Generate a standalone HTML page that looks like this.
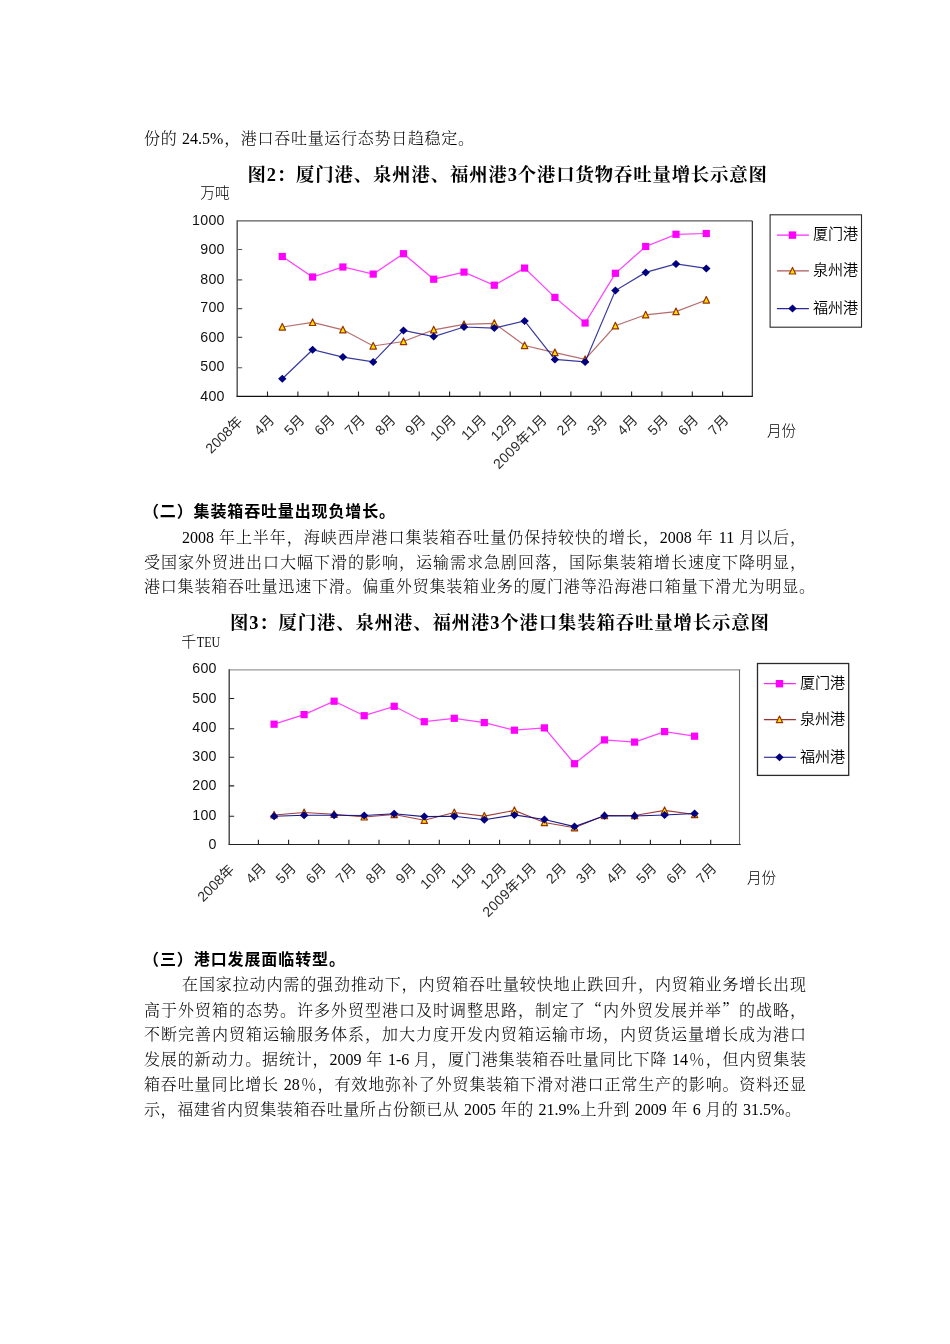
<!DOCTYPE html>
<html lang="zh-CN">
<head>
<meta charset="utf-8">
<title>港口吞吐量</title>
<style>
html,body{margin:0;padding:0;background:#fff;}
body{width:950px;height:1344px;position:relative;overflow:hidden;font-family:"Liberation Serif", "Noto Serif CJK SC", serif;color:#000;}
.ln{position:absolute;height:25px;line-height:25px;font-size:16px;font-weight:300;white-space:nowrap;text-align:justify;text-align-last:justify;text-justify:inter-character;text-spacing-trim:space-all;text-autospace:no-autospace;overflow:hidden;}
.b{font-weight:bold;font-family:"Liberation Sans","Noto Sans CJK SC",sans-serif;}
.tt{font-weight:bold;font-size:18.4px;}
.q{font-family:"Noto Serif CJK SC",serif;}
.ch{position:absolute;overflow:visible;}
</style>
</head>
<body>
<div class="ln" style="top:125.5px;left:144px;width:330px;">份的 24.5%，港口吞吐量运行态势日趋稳定。</div>
<div class="ln tt" style="top:162.5px;left:247.5px;width:519.5px;">图2：厦门港、泉州港、福州港3个港口货物吞吐量增长示意图</div>
<svg class="ch" style="left:130px;top:185px" width="760" height="300" viewBox="130 185 760 300">
<path d="M237.2 220.9H752.5" fill="none" stroke="#5a5a5a" stroke-width="1.4"/>
<path d="M752.3 220.9V396.2" fill="none" stroke="#1a1a1a" stroke-width="1.1"/>
<path d="M237.2 220.3V396.7" fill="none" stroke="#5a5a5a" stroke-width="1.5"/>
<path d="M236.6 396.4H752.8" fill="none" stroke="#111" stroke-width="1.2"/>
<path d="M237.2 249.5h5M237.2 279.9h5M237.2 308.6h5M237.2 337.4h5M237.2 367.8h5" fill="none" stroke="#555" stroke-width="1.1"/>
<path d="M267.5 396.2v-4.6M297.9 396.2v-4.6M328.2 396.2v-4.6M358.5 396.2v-4.6M388.9 396.2v-4.6M419.2 396.2v-4.6M449.6 396.2v-4.6M479.9 396.2v-4.6M510.2 396.2v-4.6M540.6 396.2v-4.6M570.9 396.2v-4.6M601.2 396.2v-4.6M631.6 396.2v-4.6M661.9 396.2v-4.6M692.3 396.2v-4.6M722.6 396.2v-4.6" fill="none" stroke="#222" stroke-width="1.1"/>
<g font-family='"Liberation Sans", "Noto Sans CJK SC", sans-serif' font-size="14.2" letter-spacing="0.3" fill="#111" text-anchor="end">
<text x="224.8" y="224.5">1000</text>
<text x="224.8" y="254.0">900</text>
<text x="224.8" y="283.7">800</text>
<text x="224.8" y="311.7">700</text>
<text x="224.8" y="341.8">600</text>
<text x="224.8" y="371.4">500</text>
<text x="224.8" y="400.8">400</text>
</g>
<g font-family='"Liberation Sans", "Noto Sans CJK SC", sans-serif' font-size="14" fill="#2a2a2a" text-anchor="end">
<text transform="translate(243.3 422.4) rotate(-45)">2008年</text>
<text transform="translate(275.1 420.9) rotate(-45)">4月</text>
<text transform="translate(305.4 420.9) rotate(-45)">5月</text>
<text transform="translate(335.7 420.9) rotate(-45)">6月</text>
<text transform="translate(366.0 420.9) rotate(-45)">7月</text>
<text transform="translate(396.3 420.9) rotate(-45)">8月</text>
<text transform="translate(426.5 420.9) rotate(-45)">9月</text>
<text transform="translate(456.8 420.9) rotate(-45)">10月</text>
<text transform="translate(487.1 420.9) rotate(-45)">11月</text>
<text transform="translate(517.4 420.9) rotate(-45)">12月</text>
<text transform="translate(548.0 420.6) rotate(-45)" letter-spacing="0.35">2009年1月</text>
<text transform="translate(577.9 420.9) rotate(-45)">2月</text>
<text transform="translate(608.2 420.9) rotate(-45)">3月</text>
<text transform="translate(638.5 420.9) rotate(-45)">4月</text>
<text transform="translate(668.8 420.9) rotate(-45)">5月</text>
<text transform="translate(699.1 420.9) rotate(-45)">6月</text>
<text transform="translate(729.4 420.9) rotate(-45)">7月</text>
</g>
<polyline points="282.3,256.5 312.6,277.0 342.9,267.0 373.2,274.1 403.5,253.7 433.7,279.2 464.0,272.1 494.3,285.2 524.6,268.1 554.9,297.4 585.1,323.0 615.4,273.3 645.7,246.5 676.0,234.3 706.3,233.5" fill="none" stroke="#FF00FF" stroke-width="1.25" stroke-opacity="0.75"/>
<rect x="278.7" y="252.9" width="7.2" height="7.2" fill="#FF00FF"/>
<rect x="309.0" y="273.4" width="7.2" height="7.2" fill="#FF00FF"/>
<rect x="339.3" y="263.4" width="7.2" height="7.2" fill="#FF00FF"/>
<rect x="369.6" y="270.5" width="7.2" height="7.2" fill="#FF00FF"/>
<rect x="399.9" y="250.1" width="7.2" height="7.2" fill="#FF00FF"/>
<rect x="430.1" y="275.6" width="7.2" height="7.2" fill="#FF00FF"/>
<rect x="460.4" y="268.5" width="7.2" height="7.2" fill="#FF00FF"/>
<rect x="490.7" y="281.6" width="7.2" height="7.2" fill="#FF00FF"/>
<rect x="521.0" y="264.5" width="7.2" height="7.2" fill="#FF00FF"/>
<rect x="551.3" y="293.8" width="7.2" height="7.2" fill="#FF00FF"/>
<rect x="581.5" y="319.4" width="7.2" height="7.2" fill="#FF00FF"/>
<rect x="611.8" y="269.7" width="7.2" height="7.2" fill="#FF00FF"/>
<rect x="642.1" y="242.9" width="7.2" height="7.2" fill="#FF00FF"/>
<rect x="672.4" y="230.7" width="7.2" height="7.2" fill="#FF00FF"/>
<rect x="702.7" y="229.9" width="7.2" height="7.2" fill="#FF00FF"/>
<polyline points="282.3,327.0 312.6,322.4 342.9,329.8 373.2,346.0 403.5,341.5 433.7,329.8 464.0,324.4 494.3,323.3 524.6,345.5 554.9,352.6 585.1,359.4 615.4,325.8 645.7,314.8 676.0,311.6 706.3,300.0" fill="none" stroke="#993333" stroke-width="1.2" stroke-opacity="0.72"/>
<path d="M282.3 323.5l3.2 6.6h-6.4z" fill="#FFE000" stroke="#993300" stroke-width="1.2" stroke-linejoin="round"/>
<path d="M312.6 318.9l3.2 6.6h-6.4z" fill="#FFE000" stroke="#993300" stroke-width="1.2" stroke-linejoin="round"/>
<path d="M342.9 326.3l3.2 6.6h-6.4z" fill="#FFE000" stroke="#993300" stroke-width="1.2" stroke-linejoin="round"/>
<path d="M373.2 342.5l3.2 6.6h-6.4z" fill="#FFE000" stroke="#993300" stroke-width="1.2" stroke-linejoin="round"/>
<path d="M403.5 338.0l3.2 6.6h-6.4z" fill="#FFE000" stroke="#993300" stroke-width="1.2" stroke-linejoin="round"/>
<path d="M433.7 326.3l3.2 6.6h-6.4z" fill="#FFE000" stroke="#993300" stroke-width="1.2" stroke-linejoin="round"/>
<path d="M464.0 320.9l3.2 6.6h-6.4z" fill="#FFE000" stroke="#993300" stroke-width="1.2" stroke-linejoin="round"/>
<path d="M494.3 319.8l3.2 6.6h-6.4z" fill="#FFE000" stroke="#993300" stroke-width="1.2" stroke-linejoin="round"/>
<path d="M524.6 342.0l3.2 6.6h-6.4z" fill="#FFE000" stroke="#993300" stroke-width="1.2" stroke-linejoin="round"/>
<path d="M554.9 349.1l3.2 6.6h-6.4z" fill="#FFE000" stroke="#993300" stroke-width="1.2" stroke-linejoin="round"/>
<path d="M585.1 355.9l3.2 6.6h-6.4z" fill="#FFE000" stroke="#993300" stroke-width="1.2" stroke-linejoin="round"/>
<path d="M615.4 322.3l3.2 6.6h-6.4z" fill="#FFE000" stroke="#993300" stroke-width="1.2" stroke-linejoin="round"/>
<path d="M645.7 311.3l3.2 6.6h-6.4z" fill="#FFE000" stroke="#993300" stroke-width="1.2" stroke-linejoin="round"/>
<path d="M676.0 308.1l3.2 6.6h-6.4z" fill="#FFE000" stroke="#993300" stroke-width="1.2" stroke-linejoin="round"/>
<path d="M706.3 296.5l3.2 6.6h-6.4z" fill="#FFE000" stroke="#993300" stroke-width="1.2" stroke-linejoin="round"/>
<polyline points="282.3,378.7 312.6,349.7 342.9,357.1 373.2,361.9 403.5,330.4 433.7,336.6 464.0,327.0 494.3,328.1 524.6,321.0 554.9,359.4 585.1,361.9 615.4,290.6 645.7,272.4 676.0,263.9 706.3,268.4" fill="none" stroke="#000080" stroke-width="1.2" stroke-opacity="0.78"/>
<path d="M282.3 374.7l4.2 4l-4.2 4l-4.2 -4z" fill="#000080"/>
<path d="M312.6 345.7l4.2 4l-4.2 4l-4.2 -4z" fill="#000080"/>
<path d="M342.9 353.1l4.2 4l-4.2 4l-4.2 -4z" fill="#000080"/>
<path d="M373.2 357.9l4.2 4l-4.2 4l-4.2 -4z" fill="#000080"/>
<path d="M403.5 326.4l4.2 4l-4.2 4l-4.2 -4z" fill="#000080"/>
<path d="M433.7 332.6l4.2 4l-4.2 4l-4.2 -4z" fill="#000080"/>
<path d="M464.0 323.0l4.2 4l-4.2 4l-4.2 -4z" fill="#000080"/>
<path d="M494.3 324.1l4.2 4l-4.2 4l-4.2 -4z" fill="#000080"/>
<path d="M524.6 317.0l4.2 4l-4.2 4l-4.2 -4z" fill="#000080"/>
<path d="M554.9 355.4l4.2 4l-4.2 4l-4.2 -4z" fill="#000080"/>
<path d="M585.1 357.9l4.2 4l-4.2 4l-4.2 -4z" fill="#000080"/>
<path d="M615.4 286.6l4.2 4l-4.2 4l-4.2 -4z" fill="#000080"/>
<path d="M645.7 268.4l4.2 4l-4.2 4l-4.2 -4z" fill="#000080"/>
<path d="M676.0 259.9l4.2 4l-4.2 4l-4.2 -4z" fill="#000080"/>
<path d="M706.3 264.4l4.2 4l-4.2 4l-4.2 -4z" fill="#000080"/>
<text x="200.2" y="198.3" font-family='"Liberation Sans", "Noto Sans CJK SC", sans-serif' font-weight="300" font-size="14.8" fill="#000">万吨</text>
<text x="767" y="436" font-family='"Liberation Sans", "Noto Sans CJK SC", sans-serif' font-weight="300" font-size="14.6" fill="#000">月份</text>
<rect x="770.1" y="214.8" width="91.39999999999998" height="112.39999999999998" fill="#fff" stroke="#2a2a2a" stroke-width="1.1"/>
<path d="M776.9 235.1H808.9" stroke="#FF00FF" stroke-width="1.2" stroke-opacity="0.85"/>
<rect x="788.8" y="231.4" width="7.4" height="7.4" fill="#FF00FF"/>
<text x="812.9" y="239.1" font-family='"Liberation Sans", "Noto Sans CJK SC", sans-serif' font-weight="350" font-size="15.1" fill="#000">厦门港</text>
<path d="M776.9 270.9H808.9" stroke="#993333" stroke-width="1.2" stroke-opacity="0.82"/>
<path d="M792.5 267.4l3.2 6.6h-6.4z" fill="#FFE000" stroke="#993300" stroke-width="1.2" stroke-linejoin="round"/>
<text x="812.9" y="275.1" font-family='"Liberation Sans", "Noto Sans CJK SC", sans-serif' font-weight="350" font-size="15.1" fill="#000">泉州港</text>
<path d="M776.9 308.6H808.9" stroke="#000080" stroke-width="1.2" stroke-opacity="0.83"/>
<path d="M792.5 304.6l4.2 4l-4.2 4l-4.2 -4z" fill="#000080"/>
<text x="812.9" y="312.7" font-family='"Liberation Sans", "Noto Sans CJK SC", sans-serif' font-weight="350" font-size="15.1" fill="#000">福州港</text>
</svg>
<div class="ln b" style="top:499px;left:143px;width:252px;">（二）集装箱吞吐量出现负增长。</div>
<div class="ln" style="top:525px;left:182px;width:624px;">2008 年上半年，海峡西岸港口集装箱吞吐量仍保持较快的增长，2008 年 11 月以后，</div>
<div class="ln" style="top:550px;left:144px;width:662px;">受国家外贸进出口大幅下滑的影响，运输需求急剧回落，国际集装箱增长速度下降明显，</div>
<div class="ln" style="top:574px;left:144px;width:671px;">港口集装箱吞吐量迅速下滑。偏重外贸集装箱业务的厦门港等沿海港口箱量下滑尤为明显。</div>
<div class="ln tt" style="top:611px;left:230px;width:539px;">图3：厦门港、泉州港、福州港3个港口集装箱吞吐量增长示意图</div>
<svg class="ch" style="left:130px;top:640px" width="760" height="300" viewBox="130 640 760 300">
<path d="M229.2 669.8H740.4" fill="none" stroke="#9a9a9a" stroke-width="1.2"/>
<path d="M739.5 669.8V844.3" fill="none" stroke="#6a6a6a" stroke-width="1.1"/>
<path d="M229.2 669.1999999999999V844.8" fill="none" stroke="#333" stroke-width="1.3"/>
<path d="M228.6 844.5H740.6999999999999" fill="none" stroke="#222" stroke-width="1.2"/>
<path d="M229.2 698.5h5M229.2 728.7h5M229.2 757.3h5M229.2 785.9h5M229.2 816.2h5" fill="none" stroke="#222" stroke-width="1.1"/>
<path d="M258.4 844.3v-4.6M288.6 844.3v-4.6M318.7 844.3v-4.6M348.9 844.3v-4.6M379.0 844.3v-4.6M409.2 844.3v-4.6M439.3 844.3v-4.6M469.5 844.3v-4.6M499.6 844.3v-4.6M529.8 844.3v-4.6M559.9 844.3v-4.6M590.1 844.3v-4.6M620.2 844.3v-4.6M650.4 844.3v-4.6M680.5 844.3v-4.6M710.7 844.3v-4.6" fill="none" stroke="#222" stroke-width="1.1"/>
<g font-family='"Liberation Sans", "Noto Sans CJK SC", sans-serif' font-size="14.2" letter-spacing="0.3" fill="#111" text-anchor="end">
<text x="216.8" y="673.0">600</text>
<text x="216.8" y="702.5">500</text>
<text x="216.8" y="731.8">400</text>
<text x="216.8" y="760.8">300</text>
<text x="216.8" y="790.3">200</text>
<text x="216.8" y="819.8">100</text>
<text x="216.8" y="848.8">0</text>
</g>
<g font-family='"Liberation Sans", "Noto Sans CJK SC", sans-serif' font-size="14" fill="#2a2a2a" text-anchor="end">
<text transform="translate(235.2 870.5) rotate(-45)">2008年</text>
<text transform="translate(266.8 869.0) rotate(-45)">4月</text>
<text transform="translate(296.8 869.0) rotate(-45)">5月</text>
<text transform="translate(326.8 869.0) rotate(-45)">6月</text>
<text transform="translate(356.9 869.0) rotate(-45)">7月</text>
<text transform="translate(386.9 869.0) rotate(-45)">8月</text>
<text transform="translate(417.0 869.0) rotate(-45)">9月</text>
<text transform="translate(447.0 869.0) rotate(-45)">10月</text>
<text transform="translate(477.0 869.0) rotate(-45)">11月</text>
<text transform="translate(507.1 869.0) rotate(-45)">12月</text>
<text transform="translate(537.4 868.7) rotate(-45)" letter-spacing="0.35">2009年1月</text>
<text transform="translate(567.2 869.0) rotate(-45)">2月</text>
<text transform="translate(597.2 869.0) rotate(-45)">3月</text>
<text transform="translate(627.3 869.0) rotate(-45)">4月</text>
<text transform="translate(657.3 869.0) rotate(-45)">5月</text>
<text transform="translate(687.3 869.0) rotate(-45)">6月</text>
<text transform="translate(717.4 869.0) rotate(-45)">7月</text>
</g>
<polyline points="274.1,724.2 304.1,714.6 334.1,701.2 364.2,715.7 394.2,706.3 424.3,721.7 454.3,718.3 484.3,722.6 514.4,730.2 544.4,727.9 574.5,763.7 604.5,739.9 634.6,742.1 664.6,731.6 694.6,736.2" fill="none" stroke="#FF00FF" stroke-width="1.25" stroke-opacity="0.75"/>
<rect x="270.5" y="720.6" width="7.2" height="7.2" fill="#FF00FF"/>
<rect x="300.5" y="711.0" width="7.2" height="7.2" fill="#FF00FF"/>
<rect x="330.5" y="697.6" width="7.2" height="7.2" fill="#FF00FF"/>
<rect x="360.6" y="712.1" width="7.2" height="7.2" fill="#FF00FF"/>
<rect x="390.6" y="702.7" width="7.2" height="7.2" fill="#FF00FF"/>
<rect x="420.7" y="718.1" width="7.2" height="7.2" fill="#FF00FF"/>
<rect x="450.7" y="714.7" width="7.2" height="7.2" fill="#FF00FF"/>
<rect x="480.7" y="719.0" width="7.2" height="7.2" fill="#FF00FF"/>
<rect x="510.8" y="726.6" width="7.2" height="7.2" fill="#FF00FF"/>
<rect x="540.8" y="724.3" width="7.2" height="7.2" fill="#FF00FF"/>
<rect x="570.9" y="760.1" width="7.2" height="7.2" fill="#FF00FF"/>
<rect x="600.9" y="736.3" width="7.2" height="7.2" fill="#FF00FF"/>
<rect x="631.0" y="738.5" width="7.2" height="7.2" fill="#FF00FF"/>
<rect x="661.0" y="728.0" width="7.2" height="7.2" fill="#FF00FF"/>
<rect x="691.0" y="732.6" width="7.2" height="7.2" fill="#FF00FF"/>
<polyline points="274.1,814.9 304.1,812.6 334.1,814.3 364.2,816.9 394.2,814.6 424.3,820.3 454.3,812.6 484.3,816.1 514.4,810.4 544.4,822.6 574.5,827.7 604.5,815.5 634.6,815.5 664.6,810.4 694.6,814.6" fill="none" stroke="#993333" stroke-width="1.05" stroke-opacity="0.95"/>
<path d="M274.1 811.4l3.2 6.6h-6.4z" fill="#FFE000" stroke="#993300" stroke-width="1.2" stroke-linejoin="round"/>
<path d="M304.1 809.1l3.2 6.6h-6.4z" fill="#FFE000" stroke="#993300" stroke-width="1.2" stroke-linejoin="round"/>
<path d="M334.1 810.8l3.2 6.6h-6.4z" fill="#FFE000" stroke="#993300" stroke-width="1.2" stroke-linejoin="round"/>
<path d="M364.2 813.4l3.2 6.6h-6.4z" fill="#FFE000" stroke="#993300" stroke-width="1.2" stroke-linejoin="round"/>
<path d="M394.2 811.1l3.2 6.6h-6.4z" fill="#FFE000" stroke="#993300" stroke-width="1.2" stroke-linejoin="round"/>
<path d="M424.3 816.8l3.2 6.6h-6.4z" fill="#FFE000" stroke="#993300" stroke-width="1.2" stroke-linejoin="round"/>
<path d="M454.3 809.1l3.2 6.6h-6.4z" fill="#FFE000" stroke="#993300" stroke-width="1.2" stroke-linejoin="round"/>
<path d="M484.3 812.6l3.2 6.6h-6.4z" fill="#FFE000" stroke="#993300" stroke-width="1.2" stroke-linejoin="round"/>
<path d="M514.4 806.9l3.2 6.6h-6.4z" fill="#FFE000" stroke="#993300" stroke-width="1.2" stroke-linejoin="round"/>
<path d="M544.4 819.1l3.2 6.6h-6.4z" fill="#FFE000" stroke="#993300" stroke-width="1.2" stroke-linejoin="round"/>
<path d="M574.5 824.2l3.2 6.6h-6.4z" fill="#FFE000" stroke="#993300" stroke-width="1.2" stroke-linejoin="round"/>
<path d="M604.5 812.0l3.2 6.6h-6.4z" fill="#FFE000" stroke="#993300" stroke-width="1.2" stroke-linejoin="round"/>
<path d="M634.6 812.0l3.2 6.6h-6.4z" fill="#FFE000" stroke="#993300" stroke-width="1.2" stroke-linejoin="round"/>
<path d="M664.6 806.9l3.2 6.6h-6.4z" fill="#FFE000" stroke="#993300" stroke-width="1.2" stroke-linejoin="round"/>
<path d="M694.6 811.1l3.2 6.6h-6.4z" fill="#FFE000" stroke="#993300" stroke-width="1.2" stroke-linejoin="round"/>
<polyline points="274.1,816.3 304.1,815.2 334.1,815.2 364.2,815.5 394.2,813.8 424.3,816.6 454.3,816.3 484.3,819.7 514.4,814.9 544.4,819.5 574.5,826.6 604.5,815.8 634.6,816.0 664.6,814.9 694.6,813.5" fill="none" stroke="#000080" stroke-width="1.05" stroke-opacity="0.9"/>
<path d="M274.1 812.3l4.2 4l-4.2 4l-4.2 -4z" fill="#000080"/>
<path d="M304.1 811.2l4.2 4l-4.2 4l-4.2 -4z" fill="#000080"/>
<path d="M334.1 811.2l4.2 4l-4.2 4l-4.2 -4z" fill="#000080"/>
<path d="M364.2 811.5l4.2 4l-4.2 4l-4.2 -4z" fill="#000080"/>
<path d="M394.2 809.8l4.2 4l-4.2 4l-4.2 -4z" fill="#000080"/>
<path d="M424.3 812.6l4.2 4l-4.2 4l-4.2 -4z" fill="#000080"/>
<path d="M454.3 812.3l4.2 4l-4.2 4l-4.2 -4z" fill="#000080"/>
<path d="M484.3 815.7l4.2 4l-4.2 4l-4.2 -4z" fill="#000080"/>
<path d="M514.4 810.9l4.2 4l-4.2 4l-4.2 -4z" fill="#000080"/>
<path d="M544.4 815.5l4.2 4l-4.2 4l-4.2 -4z" fill="#000080"/>
<path d="M574.5 822.6l4.2 4l-4.2 4l-4.2 -4z" fill="#000080"/>
<path d="M604.5 811.8l4.2 4l-4.2 4l-4.2 -4z" fill="#000080"/>
<path d="M634.6 812.0l4.2 4l-4.2 4l-4.2 -4z" fill="#000080"/>
<path d="M664.6 810.9l4.2 4l-4.2 4l-4.2 -4z" fill="#000080"/>
<path d="M694.6 809.5l4.2 4l-4.2 4l-4.2 -4z" fill="#000080"/>
<text x="181.2" y="646.6" font-family='"Liberation Sans", "Noto Sans CJK SC", sans-serif' font-weight="300" font-size="15" fill="#000">千</text>
<text transform="translate(196.79999999999998 647.0) scale(0.78 1)" font-family='"Liberation Serif", serif' font-size="15.4" fill="#111">TEU</text>
<text x="747" y="883" font-family='"Liberation Sans", "Noto Sans CJK SC", sans-serif' font-weight="300" font-size="14.6" fill="#000">月份</text>
<rect x="757.5" y="663.5" width="91.20000000000005" height="111.89999999999998" fill="#fff" stroke="#2a2a2a" stroke-width="1.3"/>
<path d="M763.9 683.7H795.9" stroke="#FF00FF" stroke-width="1.2" stroke-opacity="0.85"/>
<rect x="775.8" y="680.0" width="7.4" height="7.4" fill="#FF00FF"/>
<text x="799.9" y="688.0" font-family='"Liberation Sans", "Noto Sans CJK SC", sans-serif' font-weight="350" font-size="15.1" fill="#000">厦门港</text>
<path d="M763.9 719.6H795.9" stroke="#993333" stroke-width="1.05" stroke-opacity="1.00"/>
<path d="M779.5 716.1l3.2 6.6h-6.4z" fill="#FFE000" stroke="#993300" stroke-width="1.2" stroke-linejoin="round"/>
<text x="799.9" y="723.9" font-family='"Liberation Sans", "Noto Sans CJK SC", sans-serif' font-weight="350" font-size="15.1" fill="#000">泉州港</text>
<path d="M763.9 757.2H795.9" stroke="#000080" stroke-width="1.05" stroke-opacity="0.95"/>
<path d="M779.5 753.2l4.2 4l-4.2 4l-4.2 -4z" fill="#000080"/>
<text x="799.9" y="761.6" font-family='"Liberation Sans", "Noto Sans CJK SC", sans-serif' font-weight="350" font-size="15.1" fill="#000">福州港</text>
</svg>
<div class="ln b" style="top:947px;left:143px;width:202px;">（三）港口发展面临转型。</div>
<div class="ln" style="top:972px;left:182px;width:624px;">在国家拉动内需的强劲推动下，内贸箱吞吐量较快地止跌回升，内贸箱业务增长出现</div>
<div class="ln" style="top:997px;left:144px;width:662px;">高于外贸箱的态势。许多外贸型港口及时调整思路，制定了<span class="q">“</span>内外贸发展并举<span class="q">”</span>的战略，</div>
<div class="ln" style="top:1022px;left:144px;width:662px;">不断完善内贸箱运输服务体系，加大力度开发内贸箱运输市场，内贸货运量增长成为港口</div>
<div class="ln" style="top:1047px;left:144px;width:662px;">发展的新动力。据统计，2009 年 1-6 月，厦门港集装箱吞吐量同比下降 14％，但内贸集装</div>
<div class="ln" style="top:1072px;left:144px;width:662px;">箱吞吐量同比增长 28％，有效地弥补了外贸集装箱下滑对港口正常生产的影响。资料还显</div>
<div class="ln" style="top:1097px;left:144px;width:657px;">示，福建省内贸集装箱吞吐量所占份额已从 2005 年的 21.9%上升到 2009 年 6 月的 31.5%。</div>
</body>
</html>
